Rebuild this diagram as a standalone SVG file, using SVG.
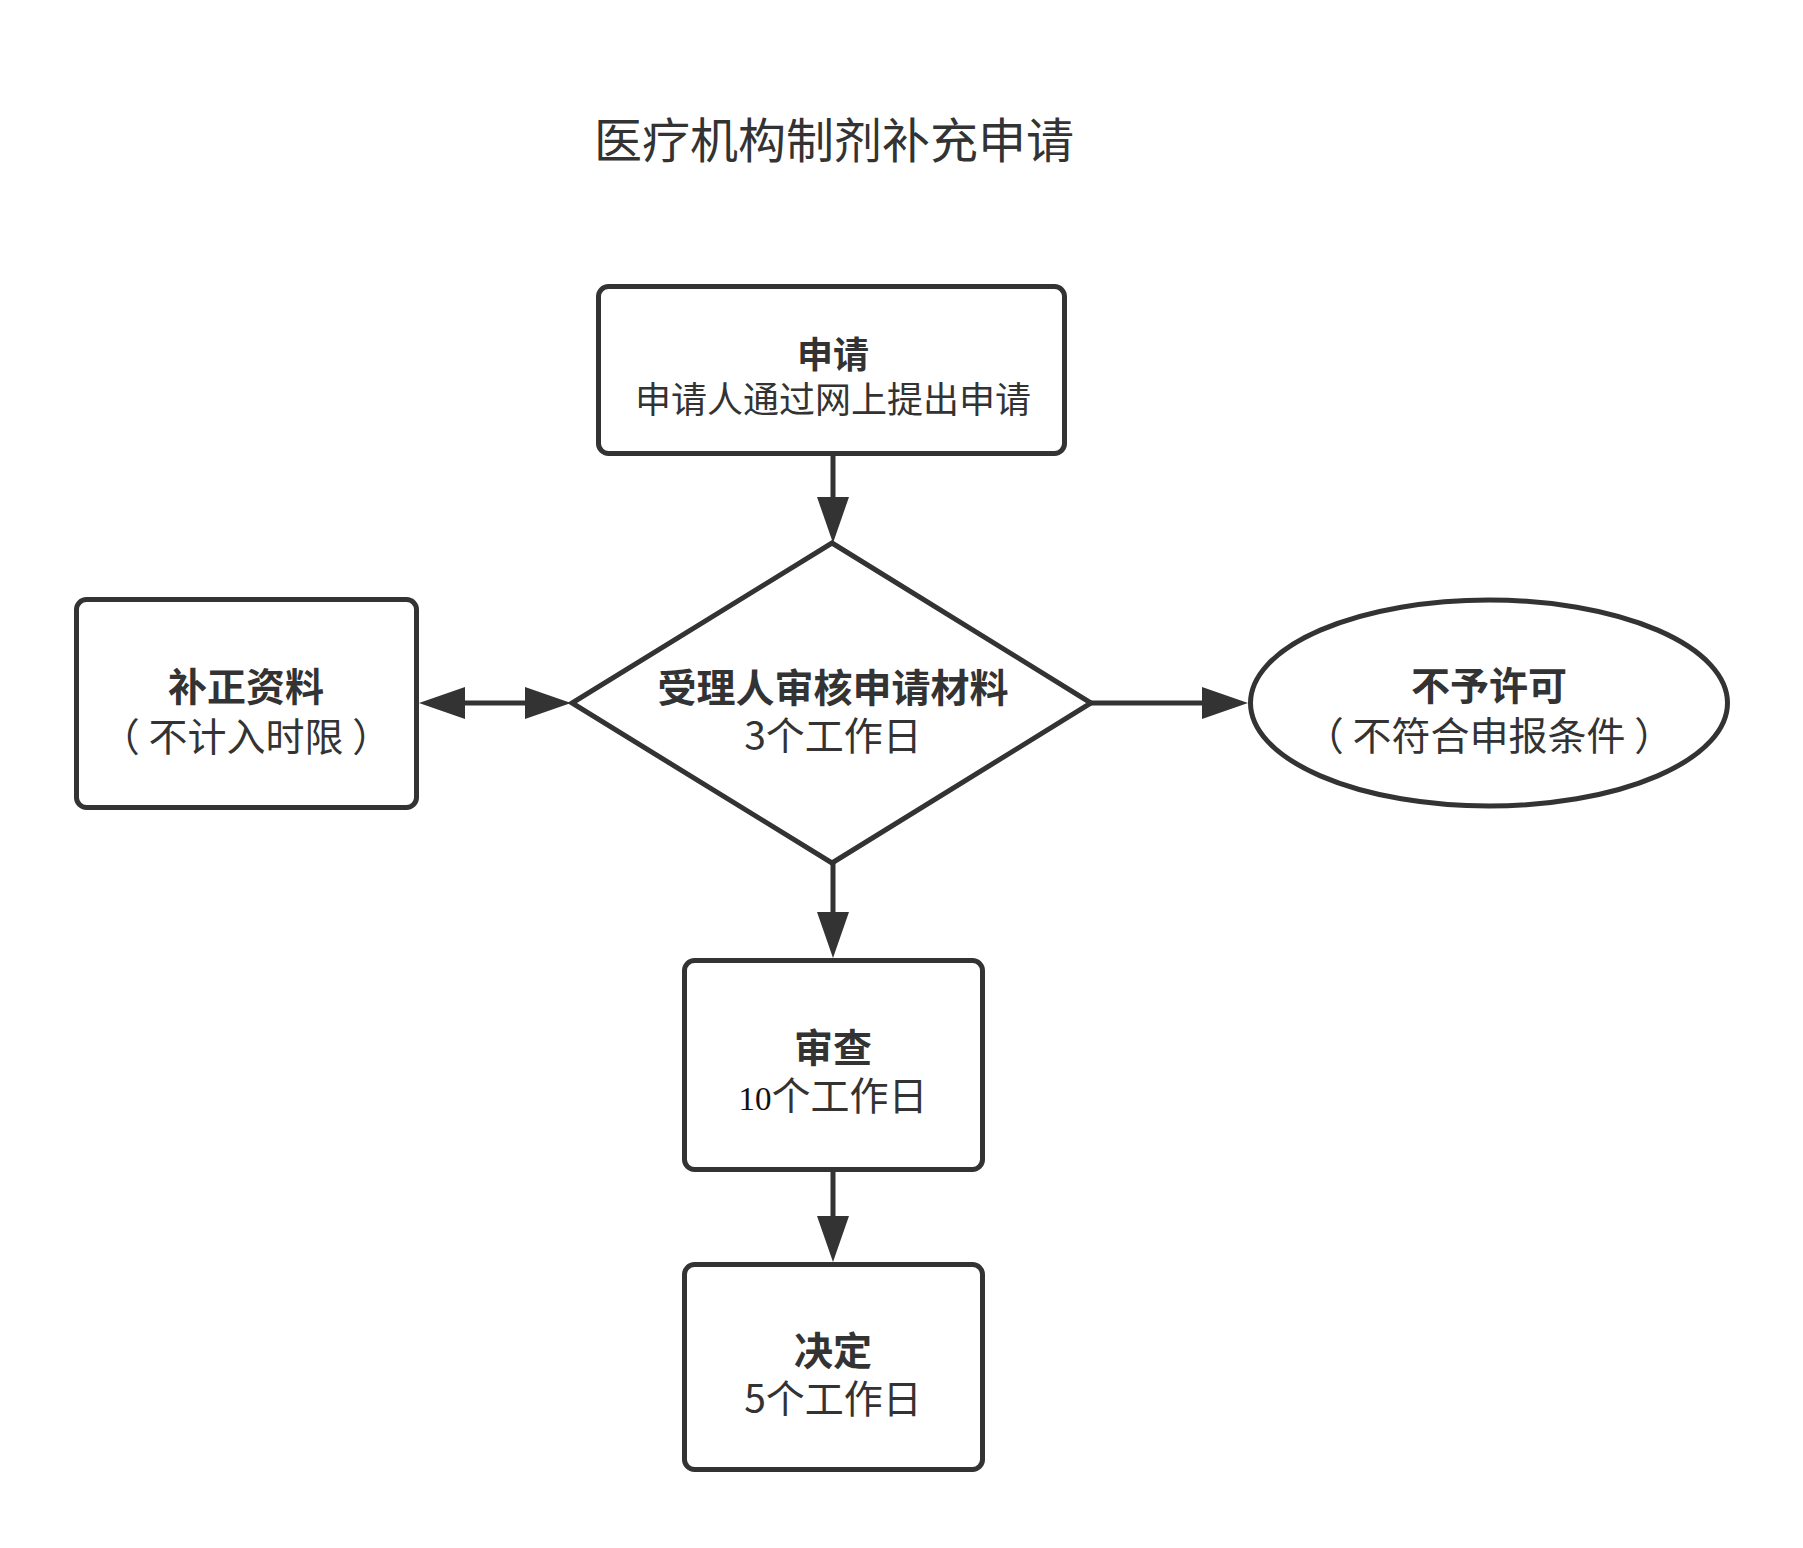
<svg xmlns="http://www.w3.org/2000/svg" width="1803" height="1548" viewBox="0 0 1803 1548">
<style>
.shape{fill:#fff;stroke:#333;stroke-width:5;}
.conn{fill:none;stroke:#333;stroke-width:5;}
text{font-family:"Noto Sans CJK SC","Noto Sans",sans-serif;fill:#333;text-anchor:middle;text-spacing-trim:space-all;}
.t{font-size:48px;}
.b{font-size:39px;font-weight:bold;}
.n{font-size:39px;font-weight:normal;}
.bs{font-size:36px;font-weight:bold;}
.ns{font-size:36px;font-weight:normal;}
</style>
<defs>
<marker id="ah" viewBox="0 0 46 32" refX="6" refY="16" markerWidth="46" markerHeight="32" markerUnits="userSpaceOnUse" orient="auto-start-reverse">
<path d="M0,0 L46,16 L0,32 Z" fill="#333"/>
</marker>
</defs>
<rect width="1803" height="1548" fill="#fff"/>
<text class="t" x="834" y="158">医疗机构制剂补充申请</text>
<g id="connectors">
<line class="conn" x1="833" y1="456" x2="833" y2="503" marker-end="url(#ah)"/>
<line class="conn" x1="459" y1="703" x2="531" y2="703" marker-start="url(#ah)" marker-end="url(#ah)"/>
<line class="conn" x1="1091" y1="703" x2="1208" y2="703" marker-end="url(#ah)"/>
<line class="conn" x1="833" y1="863" x2="833" y2="918" marker-end="url(#ah)"/>
<line class="conn" x1="833" y1="1172" x2="833" y2="1222" marker-end="url(#ah)"/>
</g>
<g id="apply">
<rect class="shape" x="598.5" y="286.5" width="466" height="167" rx="10"/>
<text><tspan class="bs" x="833" y="368">申请</tspan><tspan class="ns" x="833" y="413">申请人通过网上提出申请</tspan></text>
</g>
<g id="accept">
<polygon class="shape" points="832,543 1091,703 832,863 572,703"/>
<text><tspan class="b" x="833" y="702">受理人审核申请材料</tspan><tspan class="n" x="833" y="750">3个工作日</tspan></text>
</g>
<g id="supplement">
<rect class="shape" x="76.5" y="599.5" width="340" height="208" rx="10"/>
<text><tspan class="b" x="246" y="701">补正资料</tspan><tspan class="n" x="246" y="751">（ 不计入时限 ）</tspan></text>
</g>
<g id="reject">
<ellipse class="shape" cx="1489" cy="703" rx="238.5" ry="103"/>
<text><tspan class="b" x="1489" y="700">不予许可</tspan><tspan class="n" x="1489" y="750">（ 不符合申报条件 ）</tspan></text>
</g>
<g id="review">
<rect class="shape" x="684.5" y="960.5" width="298" height="209" rx="10"/>
<text><tspan class="b" x="833" y="1062">审查</tspan><tspan class="n" x="833" y="1110"><tspan style="font-family:'Liberation Serif',serif;fill:#111;font-size:33px">10</tspan>个工作日</tspan></text>
</g>
<g id="decide">
<rect class="shape" x="684.5" y="1264.5" width="298" height="205" rx="10"/>
<text><tspan class="b" x="833" y="1365">决定</tspan><tspan class="n" x="833" y="1413">5个工作日</tspan></text>
</g>
</svg>
